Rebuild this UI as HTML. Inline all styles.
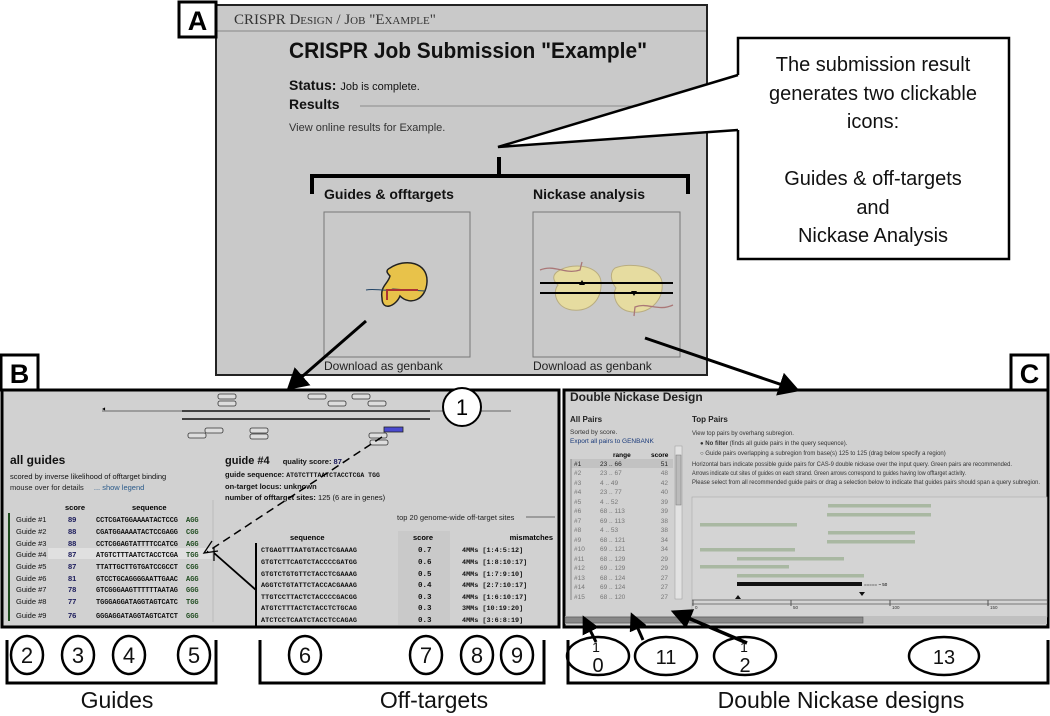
<!DOCTYPE html>
<html><head><meta charset="utf-8"><style>
html,body{margin:0;padding:0;background:#fff;}
svg{display:block;font-family:"Liberation Sans",Arial,sans-serif;}
.m{font-family:"Liberation Mono",monospace;font-weight:bold;}
</style></head><body>
<svg width="1050" height="716" viewBox="0 0 1050 716" xmlns="http://www.w3.org/2000/svg">
<defs>
<marker id="ah" markerWidth="8" markerHeight="8" refX="6" refY="4" orient="auto" markerUnits="strokeWidth"><path d="M0,0 L7,4 L0,8 z" fill="#000"/></marker>
<marker id="ah2" markerWidth="6" markerHeight="6" refX="5" refY="3" orient="auto" markerUnits="strokeWidth"><path d="M0,0 L6,3 L0,6 z" fill="#000"/></marker>
</defs>

<!-- Panel A -->
<rect x="216" y="5" width="491" height="370" fill="#c9c9c9" stroke="#222" stroke-width="2"/>
<line x1="217" y1="31" x2="706" y2="31" stroke="#888" stroke-width="1"/>
<text x="234" y="24" font-family="Liberation Serif,serif" font-size="15" fill="#333" style="font-variant:small-caps">CRISPR Design / Job "Example"</text>
<rect x="179" y="2" width="37" height="35" fill="#fff" stroke="#000" stroke-width="3"/>
<text x="197.5" y="30" text-anchor="middle" font-size="27" font-weight="bold">A</text>
<text x="289" y="58" font-size="22" font-weight="bold" fill="#111" textLength="358" lengthAdjust="spacingAndGlyphs">CRISPR Job Submission "Example"</text>
<text x="289" y="90" font-size="14" font-weight="bold" fill="#111">Status: <tspan font-size="11" font-weight="normal">Job is complete.</tspan></text>
<text x="289" y="109" font-size="14" font-weight="bold" fill="#111">Results</text>
<line x1="360" y1="106" x2="706" y2="106" stroke="#8a8a8a"/>
<text x="289" y="131" font-size="11" fill="#333">View online results for Example.</text>
<path d="M312,194 V176 H688 V194 M499,176 V157" fill="none" stroke="#000" stroke-width="4"/>
<text x="324" y="199" font-size="14" font-weight="bold" fill="#111">Guides &amp; offtargets</text>
<text x="533" y="199" font-size="14" font-weight="bold" fill="#111">Nickase analysis</text>
<rect x="324" y="212" width="146" height="145" fill="none" stroke="#777"/>
<rect x="533" y="212" width="147" height="145" fill="none" stroke="#777"/>
<text x="324" y="370" font-size="12" fill="#222">Download as genbank</text>
<text x="533" y="370" font-size="12" fill="#222">Download as genbank</text>
<!-- guides icon -->
<path d="M390,268 C405,258 428,262 427,282 C426,300 410,306 400,296 C396,306 382,312 382,298 C380,286 388,284 390,276 C386,272 386,270 390,268 z" fill="#e8c24a" stroke="#222" stroke-width="1.5"/>
<path d="M366,290 C375,288 385,292 393,289 L425,291" fill="none" stroke="#246" stroke-width="1"/>
<path d="M387,300 V290 H418" fill="none" stroke="#a33" stroke-width="2"/>
<!-- nickase icon -->
<path d="M560,270 C575,262 600,266 601,282 C602,300 590,312 572,310 C556,308 552,292 558,285 C552,280 552,274 560,270z" fill="#e6dca0" stroke="#b9ad80"/>
<path d="M615,268 C630,262 660,266 662,282 C664,300 650,314 632,312 C615,310 612,294 616,288 C610,280 610,272 615,268z" fill="#e6dca0" stroke="#b9ad80"/>
<line x1="540" y1="283" x2="673" y2="283" stroke="#000" stroke-width="2"/>
<line x1="540" y1="293" x2="673" y2="293" stroke="#000" stroke-width="2"/>
<path d="M540,270 C555,264 565,275 580,270 L582,262" fill="none" stroke="#a77" stroke-width="1.3"/>
<path d="M673,305 C658,312 648,302 635,307 L634,316" fill="none" stroke="#a77" stroke-width="1.3"/>
<path d="M579,285 l3,-5 l3,5z M631,291 l3,5 l3,-5z" fill="#000"/>

<!-- callout -->
<polygon points="498,147 738,75 738,130" fill="#fff"/>
<rect x="738" y="38" width="271" height="221" fill="#fff"/>
<path d="M738,75 V38 H1009 V259 H738 V130" fill="none" stroke="#000" stroke-width="2.5"/>
<path d="M738,75 L498,147 L738,130" fill="none" stroke="#000" stroke-width="2.5"/>
<g font-size="20" text-anchor="middle" fill="#111">
<text x="873" y="71">The submission result</text>
<text x="873" y="100">generates two clickable</text>
<text x="873" y="128">icons:</text>
<text x="873" y="185">Guides &amp; off-targets</text>
<text x="873" y="214">and</text>
<text x="873" y="242">Nickase Analysis</text>
</g>

<!-- Panel B -->
<rect x="2" y="390" width="557" height="237" fill="#d1d1d1" stroke="#000" stroke-width="3"/>
<rect x="1" y="355" width="37" height="35" fill="#fff" stroke="#000" stroke-width="3"/>
<text x="19.5" y="383" text-anchor="middle" font-size="27" font-weight="bold">B</text>
<line x1="102" y1="411" x2="511" y2="411" stroke="#666"/>
<line x1="182" y1="411" x2="430" y2="411" stroke="#111" stroke-width="1.5"/>
<line x1="182" y1="419" x2="430" y2="419" stroke="#111" stroke-width="1.5"/>
<text x="102" y="410" font-size="4">◀</text>
<g fill="#ddd" stroke="#333" stroke-width="0.8">
<rect x="218" y="394" width="18" height="5" rx="2"/><rect x="218" y="401" width="18" height="5" rx="2"/>
<rect x="308" y="394" width="18" height="5" rx="2"/><rect x="328" y="401" width="18" height="5" rx="2"/>
<rect x="352" y="394" width="18" height="5" rx="2"/><rect x="368" y="401" width="18" height="5" rx="2"/>
<rect x="188" y="433" width="18" height="5" rx="2"/><rect x="205" y="428" width="18" height="5" rx="2"/>
<rect x="250" y="428" width="18" height="5" rx="2"/><rect x="250" y="434" width="18" height="5" rx="2"/>
<rect x="369" y="433" width="18" height="5" rx="2"/><rect x="370" y="440" width="18" height="5" rx="2"/>
</g>
<rect x="384" y="427" width="19" height="5" fill="#4a4ad0" stroke="#222" stroke-width="0.8"/>
<circle cx="462" cy="407" r="19" fill="#fff" stroke="#000" stroke-width="2"/>
<text x="462" y="415" text-anchor="middle" font-size="22">1</text>

<text x="10" y="464" font-size="12" font-weight="bold" fill="#111">all guides</text>
<text x="10" y="479" font-size="7.5" fill="#111">scored by inverse likelihood of offtarget binding</text>
<text x="10" y="490" font-size="7.5" fill="#222">mouse over for details <tspan fill="#2a5a8a" dx="8">... show legend</tspan></text>
<text x="65" y="510" font-size="7.5" font-weight="bold">score</text>
<text x="132" y="510" font-size="7.5" font-weight="bold">sequence</text>
<line x1="9" y1="513" x2="9" y2="621" stroke="#1d4a1d" stroke-width="2"/>
<rect x="48" y="548" width="164" height="11" fill="#e0e0e0"/>
<line x1="213" y1="500" x2="213" y2="622" stroke="#bbb"/>
<g font-size="7.5" fill="#111">
<text x="16" y="522">Guide #1</text><text x="16" y="534">Guide #2</text><text x="16" y="546">Guide #3</text><text x="16" y="557">Guide #4</text><text x="16" y="569">Guide #5</text><text x="16" y="581">Guide #6</text><text x="16" y="592">Guide #7</text><text x="16" y="604">Guide #8</text><text x="16" y="618">Guide #9</text>
</g>
<g font-size="7.5" font-weight="bold" fill="#1a1a5a">
<text x="68" y="522">89</text><text x="68" y="534">88</text><text x="68" y="546">88</text><text x="68" y="557">87</text><text x="68" y="569">87</text><text x="68" y="581">81</text><text x="68" y="592">78</text><text x="68" y="604">77</text><text x="68" y="618">76</text>
</g>
<g class="m" font-size="7" fill="#111">
<text x="96" y="522" textLength="82">CCTCGATGGAAAATACTCCG</text><text x="186" y="522" fill="#1d4a1d">AGG</text>
<text x="96" y="534" textLength="82">CGATGGAAAATACTCCGAGG</text><text x="186" y="534" fill="#1d4a1d">CGG</text>
<text x="96" y="546" textLength="82">CCTCGGAGTATTTTCCATCG</text><text x="186" y="546" fill="#1d4a1d">AGG</text>
<text x="96" y="557" textLength="82">ATGTCTTTAATCTACCTCGA</text><text x="186" y="557" fill="#1d4a1d">TGG</text>
<text x="96" y="569" textLength="82">TTATTGCTTGTGATCCGCCT</text><text x="186" y="569" fill="#1d4a1d">CGG</text>
<text x="96" y="581" textLength="82">GTCCTGCAGGGGAATTGAAC</text><text x="186" y="581" fill="#1d4a1d">AGG</text>
<text x="96" y="592" textLength="82">GTCGGGAAGTTTTTTAATAG</text><text x="186" y="592" fill="#1d4a1d">GGG</text>
<text x="96" y="604" textLength="82">TGGGAGGATAGGTAGTCATC</text><text x="186" y="604" fill="#1d4a1d">TGG</text>
<text x="96" y="618" textLength="82">GGGAGGATAGGTAGTCATCT</text><text x="186" y="618" fill="#1d4a1d">GGG</text>
</g>

<text x="225" y="464" font-size="11" font-weight="bold" fill="#111">guide #4 <tspan font-size="7.5" dx="10">quality score: <tspan fill="#1a1a5a">87</tspan></tspan></text>
<text x="225" y="477" font-size="7.5" font-weight="bold" fill="#111">guide sequence: <tspan class="m" font-size="6.5">ATGTCTTTAATCTACCTCGA  TGG</tspan></text>
<text x="225" y="489" font-size="7.5" font-weight="bold" fill="#111">on-target locus: unknown</text>
<text x="225" y="500" font-size="7.5" font-weight="bold" fill="#111">number of offtarget sites: <tspan font-weight="normal">125 (6 are in genes)</tspan></text>

<text x="397" y="520" font-size="7.5" fill="#222">top 20 genome-wide off-target sites</text>
<line x1="526" y1="517" x2="555" y2="517" stroke="#666"/>
<rect x="398" y="531" width="52" height="94" fill="#c9c9c9"/>
<text x="290" y="540" font-size="7.5" font-weight="bold">sequence</text>
<text x="413" y="540" font-size="7.5" font-weight="bold">score</text>
<text x="553" y="540" font-size="7.5" font-weight="bold" text-anchor="end">mismatches</text>
<line x1="256" y1="543" x2="256" y2="627" stroke="#000" stroke-width="2"/>
<g class="m" font-size="6.8" fill="#111">
<text x="261" y="552" textLength="96">CTGAGTTTAATGTACCTCGAAAG</text>
<text x="261" y="564" textLength="96">GTGTCTTCAGTCTACCCCGATGG</text>
<text x="261" y="576" textLength="96">GTGTCTGTGTTCTACCTCGAAAG</text>
<text x="261" y="587" textLength="96">AGGTCTGTATTCTACCACGAAAG</text>
<text x="261" y="599" textLength="96">TTGTCCTTACTCTACCCCGACGG</text>
<text x="261" y="610" textLength="96">ATGTCTTTACTCTACCTCTGCAG</text>
<text x="261" y="622" textLength="96">ATCTCCTCAATCTACCTCCAGAG</text>
<g font-size="7.5"><text x="418" y="552">0.7</text><text x="418" y="564">0.6</text><text x="418" y="576">0.5</text><text x="418" y="587">0.4</text><text x="418" y="599">0.3</text><text x="418" y="610">0.3</text><text x="418" y="622">0.3</text></g>
<text x="462" y="552">4MMs [1:4:5:12]</text>
<text x="462" y="564">4MMs [1:8:10:17]</text>
<text x="462" y="576">4MMs [1:7:9:10]</text>
<text x="462" y="587">4MMs [2:7:10:17]</text>
<text x="462" y="599">4MMs [1:6:10:17]</text>
<text x="462" y="610">3MMs [10:19:20]</text>
<text x="462" y="622">4MMs [3:6:8:19]</text>
</g>
<line x1="382" y1="437" x2="207" y2="552" stroke="#000" stroke-width="1.5" stroke-dasharray="8,5"/>
<path d="M212,541 L204,553 L218,551" fill="none" stroke="#000" stroke-width="1.3"/>
<line x1="256" y1="590" x2="214" y2="553" stroke="#000" stroke-width="1.8"/>
<line x1="214" y1="547" x2="214" y2="561" stroke="#000" stroke-width="1.2"/>

<!-- Panel C -->
<rect x="564" y="390" width="484" height="237" fill="#d1d1d1" stroke="#000" stroke-width="3"/>
<rect x="1011" y="355" width="37" height="35" fill="#fff" stroke="#000" stroke-width="3"/>
<text x="1029.5" y="383" text-anchor="middle" font-size="27" font-weight="bold">C</text>
<text x="570" y="401" font-size="12" font-weight="bold" fill="#222">Double Nickase Design</text>
<text x="570" y="422" font-size="8" font-weight="bold" fill="#222">All Pairs</text>
<text x="570" y="434" font-size="6.5" fill="#333">Sorted by score.</text>
<text x="570" y="443" font-size="6.5" fill="#1a3a7a">Export all pairs to GENBANK</text>
<text x="613" y="457" font-size="6.5" font-weight="bold">range</text>
<text x="651" y="457" font-size="6.5" font-weight="bold">score</text>
<rect x="571" y="459" width="102" height="9" fill="#c2c2c2"/>
<line x1="571" y1="459" x2="571" y2="600" stroke="#888"/>
<rect x="675" y="446" width="7" height="153" fill="#e2e2e2" stroke="#999" stroke-width="0.5"/>
<rect x="676" y="455" width="5" height="50" fill="#bbb" stroke="#777" stroke-width="0.5"/>
<g font-size="6.5" fill="#777">
<text x="574" y="466" fill="#222">#1</text><text x="600" y="466" fill="#222">23 .. 66</text><text x="668" y="466" text-anchor="end" fill="#222">51</text>
<text x="574" y="475">#2</text><text x="600" y="475">23 .. 67</text><text x="668" y="475" text-anchor="end">48</text>
<text x="574" y="485">#3</text><text x="600" y="485">4 .. 49</text><text x="668" y="485" text-anchor="end">42</text>
<text x="574" y="494">#4</text><text x="600" y="494">23 .. 77</text><text x="668" y="494" text-anchor="end">40</text>
<text x="574" y="504">#5</text><text x="600" y="504">4 .. 52</text><text x="668" y="504" text-anchor="end">39</text>
<text x="574" y="513">#6</text><text x="600" y="513">68 .. 113</text><text x="668" y="513" text-anchor="end">39</text>
<text x="574" y="523">#7</text><text x="600" y="523">69 .. 113</text><text x="668" y="523" text-anchor="end">38</text>
<text x="574" y="532">#8</text><text x="600" y="532">4 .. 53</text><text x="668" y="532" text-anchor="end">38</text>
<text x="574" y="542">#9</text><text x="600" y="542">68 .. 121</text><text x="668" y="542" text-anchor="end">34</text>
<text x="574" y="551">#10</text><text x="600" y="551">69 .. 121</text><text x="668" y="551" text-anchor="end">34</text>
<text x="574" y="561">#11</text><text x="600" y="561">68 .. 129</text><text x="668" y="561" text-anchor="end">29</text>
<text x="574" y="570">#12</text><text x="600" y="570">69 .. 129</text><text x="668" y="570" text-anchor="end">29</text>
<text x="574" y="580">#13</text><text x="600" y="580">68 .. 124</text><text x="668" y="580" text-anchor="end">27</text>
<text x="574" y="589">#14</text><text x="600" y="589">69 .. 124</text><text x="668" y="589" text-anchor="end">27</text>
<text x="574" y="599">#15</text><text x="600" y="599">68 .. 120</text><text x="668" y="599" text-anchor="end">27</text>
</g>
<text x="692" y="422" font-size="8" font-weight="bold" fill="#222">Top Pairs</text>
<g font-size="6" fill="#333">
<text x="692" y="435">View top pairs by overhang subregion.</text>
<text x="700" y="445">● <tspan font-weight="bold">No filter</tspan> (finds all guide pairs in the query sequence).</text>
<text x="700" y="455">○ Guide pairs overlapping a subregion from base(s) 125 to 125 (drag below specify a region)</text>
<text x="692" y="466" textLength="320" lengthAdjust="spacingAndGlyphs">Horizontal bars indicate possible guide pairs for CAS-9 double nickase over the input query. Green pairs are recommended.</text>
<text x="692" y="475" textLength="274" lengthAdjust="spacingAndGlyphs">Arrows indicate cut sites of guides on each strand. Green arrows correspond to guides having low offtarget activity.</text>
<text x="692" y="484" textLength="348" lengthAdjust="spacingAndGlyphs">Please select from all recommended guide pairs or drag a selection below to indicate that guides pairs should span a query subregion.</text>
</g>
<rect x="692" y="497" width="355" height="120" fill="#d4d4d4" stroke="#aaa" stroke-width="0.6"/>
<g fill="#a9b8a2">
<rect x="828" y="504" width="103" height="3.5"/>
<rect x="827" y="513" width="104" height="3.5"/>
<rect x="700" y="523" width="97" height="3.5"/>
<rect x="828" y="531" width="87" height="3.5"/>
<rect x="827" y="540" width="88" height="3.5"/>
<rect x="700" y="548" width="95" height="3.5"/>
<rect x="737" y="557" width="107" height="3.5"/>
<rect x="700" y="565" width="89" height="3.5"/>
<rect x="737" y="574" width="127" height="3.5"/>
</g>
<rect x="737" y="582" width="125" height="4" fill="#111"/>
<text x="864" y="586" font-size="4.5">===== ~ 50</text>
<path d="M859,592 l3,4 l3,-4z M735,599 l3,-4 l3,4z" fill="#111"/>
<line x1="692" y1="600" x2="1047" y2="600" stroke="#777"/>
<line x1="692" y1="604" x2="1047" y2="604" stroke="#777"/>
<g stroke="#555"><line x1="693" y1="600" x2="693" y2="606"/><line x1="791" y1="600" x2="791" y2="606"/><line x1="890" y1="600" x2="890" y2="606"/><line x1="988" y1="600" x2="988" y2="606"/></g>
<g font-size="4.5" fill="#333"><text x="695" y="609">0</text><text x="793" y="609">50</text><text x="892" y="609">100</text><text x="990" y="609">150</text></g>
<rect x="565" y="616" width="482" height="8" fill="#c0c0c0"/>
<rect x="565" y="617" width="298" height="6" fill="#888" stroke="#555" stroke-width="0.6"/>

<!-- arrows A->B, A->C -->
<line x1="366" y1="321" x2="289" y2="388" stroke="#000" stroke-width="3" marker-end="url(#ah)"/>
<line x1="645" y1="338" x2="797" y2="390" stroke="#000" stroke-width="3" marker-end="url(#ah)"/>

<!-- bottom numbered circles -->
<g fill="#fff" stroke="#000" stroke-width="2.5">
<ellipse cx="27" cy="655" rx="16" ry="19"/><ellipse cx="78" cy="655" rx="16" ry="19"/><ellipse cx="129" cy="655" rx="16" ry="19"/><ellipse cx="194" cy="655" rx="16" ry="19"/>
<ellipse cx="305" cy="655" rx="16" ry="19"/><ellipse cx="426" cy="655" rx="16" ry="19"/><ellipse cx="477" cy="655" rx="16" ry="19"/><ellipse cx="517" cy="655" rx="16" ry="19"/>
<ellipse cx="598" cy="656" rx="31" ry="19"/><ellipse cx="666" cy="656" rx="31" ry="19"/><ellipse cx="745" cy="656" rx="31" ry="19"/><ellipse cx="944" cy="656" rx="35" ry="19"/>
</g>
<!-- bottom C arrows -->
<line x1="596" y1="642" x2="584" y2="618" stroke="#000" stroke-width="3" marker-end="url(#ah2)"/>
<line x1="643" y1="640" x2="632" y2="615" stroke="#000" stroke-width="3" marker-end="url(#ah2)"/>
<line x1="747" y1="643" x2="674" y2="612" stroke="#000" stroke-width="3.5" marker-end="url(#ah2)"/>
<g font-size="22" text-anchor="middle" fill="#111">
<text x="27" y="663">2</text><text x="78" y="663">3</text><text x="129" y="663">4</text><text x="194" y="663">5</text>
<text x="305" y="663">6</text><text x="426" y="663">7</text><text x="477" y="663">8</text><text x="517" y="663">9</text>
<text x="596" y="652" font-size="14">1</text><text x="598" y="672" font-size="20">0</text>
<text x="666" y="664" font-size="20">11</text>
<text x="744" y="652" font-size="14">1</text><text x="745" y="672" font-size="20">2</text>
<text x="944" y="664" font-size="20">13</text>
</g>
<g fill="none" stroke="#000" stroke-width="3">
<path d="M7,640 V683 H216 V640"/>
<path d="M260,640 V683 H544 V640"/>
<path d="M568,640 V683 H1048 V640"/>
</g>
<g font-size="23" text-anchor="middle" fill="#111">
<text x="117" y="708">Guides</text>
<text x="434" y="708">Off-targets</text>
<text x="841" y="708">Double Nickase designs</text>
</g>
</svg>
</body></html>
